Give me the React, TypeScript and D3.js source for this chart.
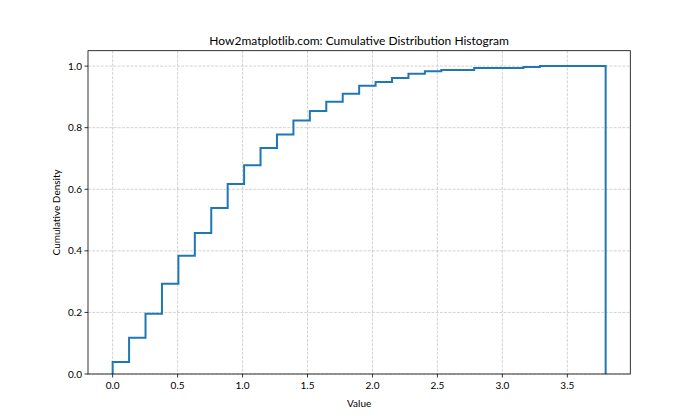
import React from "react";
import * as d3 from "d3";

const binMin = 0;
const binMax = 3.795;
const binCount = 30;
const cumulative = [
  0.039, 0.118, 0.196, 0.293, 0.384, 0.458, 0.539, 0.617, 0.678, 0.734,
  0.778, 0.823, 0.854, 0.884, 0.910, 0.936, 0.948, 0.961, 0.975, 0.983,
  0.987, 0.987, 0.9935, 0.9935, 0.9935, 0.9968, 1.0, 1.0, 1.0, 1.0,
];
const xTicks = [0, 0.5, 1.0, 1.5, 2.0, 2.5, 3.0, 3.5];
const yTicks = [0, 0.2, 0.4, 0.6, 0.8, 1.0];
const title = "How2matplotlib.com: Cumulative Distribution Histogram";
const xLabel = "Value";
const yLabel = "Cumulative Density";

export default function App() {
  const W = 700, H = 420;
  const left = 88, right = 630.3, top = 50.7, bottom = 374;
  const span = binMax - binMin;
  const x = d3.scaleLinear().domain([binMin - span * 0.05, binMax + span * 0.05]).range([left, right]);
  const y = d3.scaleLinear().domain([0, 1.05]).range([bottom, top]);
  const w = span / binCount;

  const pts: [number, number][] = [[binMin, 0]];
  cumulative.forEach((v, i) => {
    pts.push([binMin + i * w, v]);
    pts.push([binMin + (i + 1) * w, v]);
  });
  pts.push([binMax, 0]);
  const line = d3.line<[number, number]>().x(d => x(d[0])).y(d => y(d[1]));

  const font = "Lato, 'Noto Sans', sans-serif";
  return (
    <svg width={W} height={H} style={{ position: "absolute", left: 0, top: 0, background: "#fff" }} fontFamily={font}>
      <rect x={0} y={0} width={W} height={H} fill="#fff" />
      {xTicks.map(t => (
        <line key={"gx" + t} x1={x(t)} x2={x(t)} y1={top} y2={bottom} stroke="#b0b0b0" strokeOpacity={0.7} strokeWidth={0.8} strokeDasharray="2.96,1.28" />
      ))}
      {yTicks.map(t => (
        <line key={"gy" + t} x1={left} x2={right} y1={y(t)} y2={y(t)} stroke="#b0b0b0" strokeOpacity={0.7} strokeWidth={0.8} strokeDasharray="2.96,1.28" />
      ))}
      <path d={line(pts) || ""} fill="none" stroke="#1f77b4" strokeWidth={2} strokeLinejoin="miter" />
      <rect x={left} y={top} width={right - left} height={bottom - top} fill="none" stroke="#000" strokeWidth={0.8} />
      {xTicks.map(t => (
        <g key={"tx" + t}>
          <line x1={x(t)} x2={x(t)} y1={bottom} y2={bottom + 3.5} stroke="#000" strokeWidth={0.8} />
          <text x={x(t)} y={bottom + 15} textAnchor="middle" fontSize={10} fill="#000">{t.toFixed(1)}</text>
        </g>
      ))}
      {yTicks.map(t => (
        <g key={"ty" + t}>
          <line x1={left - 3.5} x2={left} y1={y(t)} y2={y(t)} stroke="#000" strokeWidth={0.8} />
          <text x={left - 6} y={y(t)} dy="0.35em" textAnchor="end" fontSize={10} fill="#000">{t.toFixed(1)}</text>
        </g>
      ))}
      <text x={(left + right) / 2} y={407} textAnchor="middle" fontSize={10} fill="#000">{xLabel}</text>
      <text transform={`translate(60,${(top + bottom) / 2}) rotate(-90)`} textAnchor="middle" fontSize={10} fill="#000">{yLabel}</text>
      <text x={(left + right) / 2} y={45} textAnchor="middle" fontSize={12} fill="#000">{title}</text>
    </svg>
  );
}
